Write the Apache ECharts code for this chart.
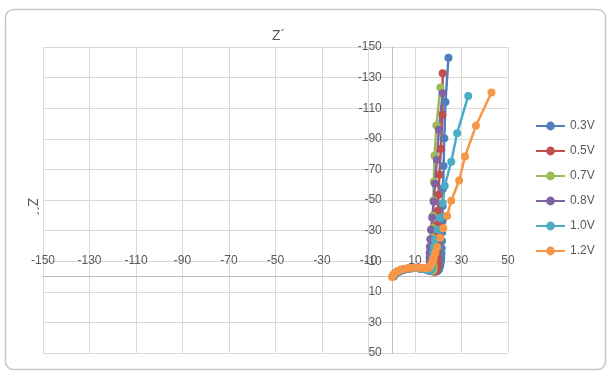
<!DOCTYPE html>
<html>
<head>
<meta charset="utf-8">
<script src="https://cdn.jsdelivr.net/npm/echarts@6/dist/echarts.min.js"></script>
<style>
  html, body { margin: 0; padding: 0; background: #fff; }
  #chart { width: 612px; height: 376px; }
</style>
</head>
<body>
<div id="chart"></div>
<script>
// Z' / Z'' pairs, one array per bias voltage
const names = ['0.3V', '0.5V', '0.7V', '0.8V', '1.0V', '1.2V']
const colors = ['#4F81BD', '#C0504D', '#9BBB59', '#8064A2', '#4BACC6', '#F79646']

const z03 = [[0.9,-0.2],[1.6,-1.6],[2.6,-2.8],[3.9,-3.8],[5.4,-4.6],[7.1,-5.1],[8.9,-5.4],[10.7,-5.5],[12.4,-5.3],[14,-5],[15.4,-4.5],[16.6,-4],[17.6,-3.5],[18.5,-3.2],[19.3,-3.3],[19.9,-3.9],[20.3,-4.8],[20.6,-6],[20.9,-7.5],[21.1,-9.4],[21.3,-11.8],[21.4,-14.8],[21.5,-18.5],[21.6,-23.2],[21.7,-29],[21.8,-36.5],[21.9,-46],[22.1,-57.5],[22.3,-72.2],[22.6,-90.3],[23.1,-114.1],[24.4,-143]]
const z05 = [[0.8,-0.2],[1.5,-1.6],[2.5,-2.8],[3.8,-3.8],[5.3,-4.6],[7,-5.1],[8.8,-5.4],[10.6,-5.5],[12.3,-5.3],[13.9,-5],[15.3,-4.5],[16.5,-3.9],[17.5,-3.4],[18.3,-3.1],[18.9,-3.5],[19.3,-4.3],[19.6,-5.4],[19.8,-6.8],[19.8,-8.6],[19.8,-10.8],[19.7,-13.6],[19.6,-17.1],[19.5,-21.5],[19.5,-27.1],[19.6,-34.2],[19.8,-43],[20.1,-53.4],[20.5,-66.5],[21.1,-83.5],[21.8,-105.7],[21.9,-132.9]]
const z07 = [[0.7,-0.2],[1.4,-1.6],[2.4,-2.8],[3.7,-3.8],[5.2,-4.6],[6.9,-5.1],[8.7,-5.4],[10.5,-5.5],[12.2,-5.3],[13.8,-5],[15.1,-4.5],[16.2,-3.9],[17,-3.5],[17.6,-3.6],[17.9,-4.2],[18,-5.3],[18,-6.7],[17.9,-8.3],[17.8,-10.4],[17.7,-13],[17.6,-16.2],[17.5,-20.3],[17.5,-25.4],[17.6,-31.7],[17.7,-39.7],[17.9,-49.6],[18.1,-62],[18.4,-78.9],[19.2,-98.7],[20.9,-123.5]]
const z08 = [[0.7,-0.2],[1.4,-1.6],[2.4,-2.8],[3.6,-3.8],[5.1,-4.6],[6.8,-5.1],[8.5,-5.4],[10.2,-5.5],[11.8,-5.3],[13.3,-5],[14.6,-4.5],[15.6,-4],[16.3,-3.8],[16.6,-4.3],[16.7,-5.2],[16.6,-6.4],[16.5,-8],[16.4,-10],[16.3,-12.5],[16.3,-15.6],[16.4,-19.5],[16.6,-24.4],[16.9,-30.5],[17.4,-38.6],[18.1,-48.8],[18.6,-60.6],[19.4,-76.3],[20.3,-95.9],[21.9,-119.8]]
const z10 = [[0.6,-0.1],[1.3,-1.6],[2.3,-2.9],[3.6,-3.9],[5.1,-4.7],[6.8,-5.2],[8.5,-5.5],[10.2,-5.6],[11.8,-5.4],[13.3,-5.1],[14.6,-4.7],[15.7,-4.3],[16.5,-4.3],[17,-5],[17.3,-6.3],[17.4,-7.9],[17.5,-9.8],[17.6,-12.3],[17.8,-15.4],[18.1,-19.2],[18.6,-24],[19.8,-30.5],[20.7,-38.2],[21.9,-48],[22.8,-59.3],[25.6,-75],[28.1,-93.7],[32.9,-118]]
const z12 = [[0.1,0.3],[0.6,-1.2],[1.4,-2.5],[2.5,-3.6],[3.9,-4.5],[5.5,-5.1],[7.3,-5.5],[9.1,-5.7],[10.9,-5.8],[12.5,-5.7],[13.9,-5.5],[15,-5.4],[15.8,-5.7],[16.4,-6.4],[16.9,-7.6],[17.3,-9],[17.7,-10.7],[18.2,-12.8],[18.8,-15.6],[19.5,-19.2],[20.8,-25.3],[22.2,-31.6],[23.8,-39.7],[25.6,-49.5],[29,-62.7],[31.5,-78.4],[36.2,-98.5],[42.9,-120.3]]

const seriesData = [z03, z05, z07, z08, z10, z12]

const axisMin = -150
const axisMax = 50
const axisStep = 20

const textColor = '#595959'
const font = 'Liberation Sans'

// plot box
const plotLeft = 43
const plotTop = 47
const plotW = 465
const plotH = 306
// where the zero lines fall inside the plot box
const zeroX = plotLeft + plotW * (0 - axisMin) / (axisMax - axisMin)
const zeroY = plotTop + plotH * (0 - axisMin) / (axisMax - axisMin)

const myChart = echarts.init(document.getElementById('chart'))

const baseAxis = {
  type: 'value',
  min: axisMin,
  max: axisMax,
  interval: axisStep,
  axisTick: { show: false },
}

myChart.setOption({
  animation: false,
  backgroundColor: '#fff',
  textStyle: { fontFamily: font },
  grid: [
    { left: plotLeft, top: plotTop, width: plotW, height: plotH },
    // thin strips sitting on the zero lines, only to carry the tick labels
    { left: plotLeft, top: zeroY, width: plotW, height: 0.01 },
    { left: zeroX, top: plotTop, width: 0.01, height: plotH },
  ],
  legend: {
    orient: 'vertical',
    left: 535,
    top: 120,
    padding: 0,
    itemWidth: 29,
    itemHeight: 11,
    itemGap: 13,
    data: names,
    textStyle: { color: textColor, fontSize: 12, fontFamily: font },
  },
  xAxis: [
    {
      ...baseAxis,
      gridIndex: 0,
      axisLine: { onZero: true, lineStyle: { color: '#bfbfbf', width: 1 } },
      axisLabel: { show: false },
      splitLine: { lineStyle: { color: '#d9d9d9', width: 1 } },
    },
    {
      ...baseAxis,
      gridIndex: 1,
      position: 'top',
      axisLine: { show: false },
      axisLabel: { color: textColor, fontSize: 12, margin: 10 },
      splitLine: { show: false },
    },
    {
      ...baseAxis,
      gridIndex: 2,
      show: false,
    },
  ],
  yAxis: [
    {
      ...baseAxis,
      gridIndex: 0,
      inverse: true,
      axisLine: { show: true, onZero: true, lineStyle: { color: '#bfbfbf', width: 1 } },
      axisLabel: { show: false },
      splitLine: { lineStyle: { color: '#d9d9d9', width: 1 } },
    },
    {
      ...baseAxis,
      gridIndex: 1,
      show: false,
    },
    {
      ...baseAxis,
      gridIndex: 2,
      inverse: true,
      position: 'left',
      axisLine: { show: false },
      axisLabel: { color: textColor, fontSize: 12, margin: 10 },
      splitLine: { show: false },
    },
  ],
  graphic: [
    {
      type: 'rect',
      shape: { x: 5.5, y: 9.5, width: 600, height: 360, r: 8 },
      style: { fill: 'none', stroke: '#c6c6c6', lineWidth: 1.5 },
      silent: true,
    },
    {
      type: 'text',
      left: 272,
      top: 29,
      style: { text: 'Z´', fill: textColor, fontSize: 14, fontFamily: font },
    },
    {
      type: 'text',
      x: 39,
      y: 198,
      rotation: -Math.PI / 2,
      style: { text: 'Z´´', fill: textColor, fontSize: 14, fontFamily: font },
    },
  ],
  series: names.map((name, i) => ({
    name: name,
    type: 'line',
    xAxisIndex: 0,
    yAxisIndex: 0,
    data: seriesData[i],
    color: colors[i],
    symbol: 'circle',
    symbolSize: 8,
    showSymbol: true,
    lineStyle: { width: 2.5 },
    emphasis: { disabled: true },
  })),
})
</script>
</body>
</html>
